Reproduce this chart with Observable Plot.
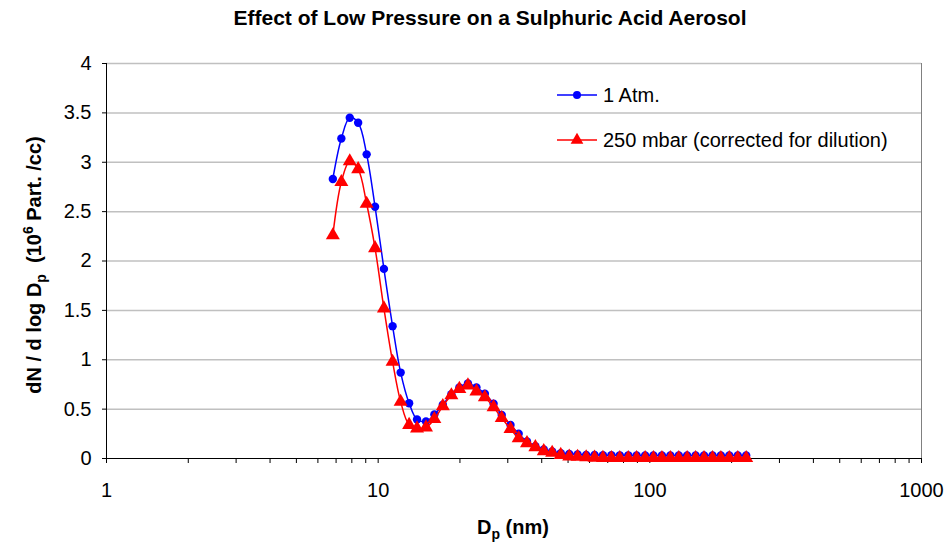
<!DOCTYPE html>
<html><head><meta charset="utf-8">
<script src="https://cdn.jsdelivr.net/npm/d3@7"></script>
<script src="https://cdn.jsdelivr.net/npm/@observablehq/plot@0.6"></script>
<style>
body{margin:0;background:#fff;font-family:"Liberation Sans",Arial,sans-serif}
</style>
</head><body><div id="chart"></div>
<script>
const diameters = [6.81, 7.32, 7.86, 8.44, 9.07, 9.74, 10.5, 11.3, 12.1, 13.0,
  13.9, 15.0, 16.1, 17.3, 18.6, 19.9, 21.4, 23.0, 24.7, 26.6,
  28.5, 30.7, 32.9, 35.3, 37.9, 40.7, 43.7, 47.0, 50.5, 54.2,
  58.3, 62.6, 67.2, 72.2, 77.5, 83.3, 89.4, 96.1, 103.1, 110.8,
  119.0, 127.8, 137.2, 147.4, 158.3, 170.1, 182.6, 196.1, 210.7, 226.3];
const atm1 = [2.83, 3.24, 3.45, 3.40, 3.08, 2.55, 1.92, 1.34, 0.87, 0.56,
  0.395, 0.375, 0.445, 0.545, 0.65, 0.72, 0.76, 0.72, 0.655, 0.555,
  0.44, 0.34, 0.25, 0.172, 0.125, 0.091, 0.071, 0.054, 0.047, 0.04,
  0.037, 0.035, 0.034, 0.033, 0.032, 0.032, 0.031, 0.031, 0.03, 0.03,
  0.03, 0.03, 0.03, 0.03, 0.03, 0.03, 0.03, 0.03, 0.03, 0.03];
const mbar250 = [2.26, 2.80, 3.01, 2.93, 2.58, 2.13, 1.52, 0.98, 0.575, 0.34,
  0.305, 0.315, 0.40, 0.53, 0.64, 0.705, 0.74, 0.68, 0.62, 0.52,
  0.41, 0.30, 0.205, 0.155, 0.115, 0.074, 0.058, 0.037, 0.02, 0.018,
  0.012, 0.008, 0.006, 0.005, 0.005, 0.005, 0.005, 0.005, 0.005, 0.005,
  0.005, 0.005, 0.005, 0.005, 0.005, 0.005, 0.005, 0.005, 0.005, 0.005];
const seriesNames = ["1 Atm.", "250 mbar (corrected for dilution)"];
const seriesColors = ["#0000ff", "#ff0000"];
const yTicks = [0, 0.5, 1, 1.5, 2, 2.5, 3, 3.5, 4];
const xTicks = [1, 10, 100, 1000];
const xMinor = [2,3,4,5,6,7,8,9,20,30,40,50,60,70,80,90,200,300,400,500,600,700,800,900];
const titleText = "Effect of Low Pressure on a Sulphuric Acid Aerosol";

const rowsA = diameters.map((d, i) => ({d, v: atm1[i], s: seriesNames[0]}));
const rowsB = diameters.map((d, i) => ({d, v: mbar250[i], s: seriesNames[1]}));

const font = "'Liberation Sans', Arial, sans-serif";
const W = 951, H = 542, mL = 106, mR = 30, mT = 63, mB = 84;

const plot = Plot.plot({
  width: W, height: H,
  marginTop: mT, marginLeft: mL, marginRight: mR, marginBottom: mB,
  style: {fontFamily: font, fontSize: "20px", color: "#000", background: "#fff", overflow: "visible"},
  x: {type: "log", domain: [1, 1000]},
  y: {domain: [0, 4]},
  marks: [
    Plot.ruleY(yTicks.filter(v => v > 0), {stroke: "#c0c0c0", strokeWidth: 1.5}),
    Plot.ruleX([1000], {stroke: "#808080", strokeWidth: 1}),
    Plot.axisY({ticks: yTicks, tickFormat: d => String(d), tickSize: 4, tickPadding: 11, label: null, fontSize: 20, stroke: "#000"}),
    Plot.axisX({ticks: [...xTicks, ...xMinor], tickFormat: d => xTicks.includes(d) ? String(d) : "", tickSize: 5, tickPadding: 19, label: null, fontSize: 20}),
    Plot.ruleX([1], {stroke: "#000", strokeWidth: 1}),
    Plot.ruleY([0], {stroke: "#000", strokeWidth: 1}),
    Plot.line(rowsA, {x: "d", y: "v", stroke: seriesColors[0], curve: "catmull-rom", strokeWidth: 1.5}),
    Plot.dot(rowsA, {x: "d", y: "v", fill: seriesColors[0], stroke: "none", r: 4.2, symbol: "circle"}),
    Plot.line(rowsB, {x: "d", y: "v", stroke: seriesColors[1], curve: "catmull-rom", strokeWidth: 1.5}),
    Plot.dot(rowsB, {x: "d", y: "v", fill: seriesColors[1], stroke: "none", r: 5.2, symbol: "triangle"})
  ]
});

const svg = d3.select(plot);
// Title
svg.append("text").attr("x", 490).attr("y", 25).attr("text-anchor", "middle")
  .attr("font-family", font).attr("font-weight", "bold").attr("font-size", 21).text(titleText);
// X axis title
const xt = svg.append("text").attr("x", 513).attr("y", 534).attr("text-anchor", "middle")
  .attr("font-family", font).attr("font-weight", "bold").attr("font-size", 20);
xt.append("tspan").text("D");
xt.append("tspan").attr("font-size", 14).attr("dy", 5).text("p");
xt.append("tspan").attr("dy", -5).text(" (nm)");
// Y axis title
const yt = svg.append("text").attr("transform", "translate(41,265) rotate(-90)").attr("text-anchor", "middle")
  .attr("font-family", font).attr("font-weight", "bold").attr("font-size", 20);
yt.append("tspan").text("dN / d log D");
yt.append("tspan").attr("font-size", 14).attr("dy", 5).text("p");
yt.append("tspan").attr("dy", -5).text("\u00a0 (10");
yt.append("tspan").attr("font-size", 14).attr("dy", -8).text("6");
yt.append("tspan").attr("dy", 8).text(" Part. /cc)");
// Legend
const leg = svg.append("g").attr("text-anchor", "start");
const legY = [95, 140];
seriesNames.forEach((name, i) => {
  const y = legY[i];
  leg.append("line").attr("x1", 557).attr("x2", 597).attr("y1", y).attr("y2", y)
    .attr("stroke", seriesColors[i]).attr("stroke-width", 1.5);
  leg.append("path").attr("transform", `translate(577,${y})`)
    .attr("d", d3.symbol(i === 0 ? d3.symbolCircle : d3.symbolTriangle, i === 0 ? 50 : 70)())
    .attr("fill", seriesColors[i]);
  leg.append("text").attr("x", 603).attr("y", y).attr("dy", "0.35em").attr("text-anchor", "start")
    .attr("font-family", font).attr("font-size", 20).text(name);
});
document.getElementById("chart").appendChild(plot);
</script>
</body></html>
